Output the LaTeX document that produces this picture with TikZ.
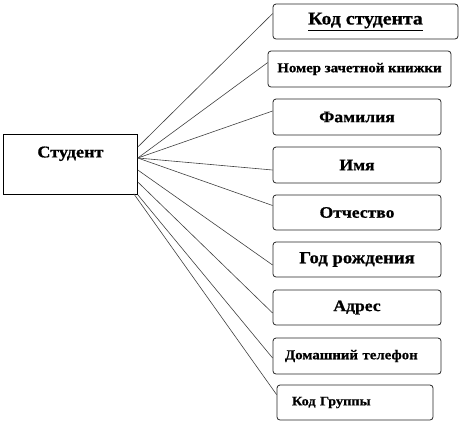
\documentclass[tikz,border=0pt]{standalone}
\usepackage{fontspec}
\setmainfont{Liberation Serif}[FakeStretch=1.1, FakeBold=0.8]
\begin{document}
\begin{tikzpicture}[x=1pt,y=-1pt,
  attr/.style={draw=black!85, line width=0.8pt, rounded corners=3pt, minimum height=36pt, inner sep=0pt, font=\bfseries\fontsize{16}{18}\selectfont},
  leftattr/.style={attr, align=left, font=\bfseries\fontsize{13}{15}\selectfont},
  ent/.style={draw=black, line width=0.8pt, inner sep=0pt, minimum width=134pt, text height=23pt, text depth=37pt, anchor=north west, font=\bfseries\fontsize{16.5}{18}\selectfont},
  link/.style={draw=black!75, line width=0.6pt}]
\useasboundingbox (0,0) rectangle (462,424);
\node[ent] (s) at (3,134) {Студент};
\node[attr, minimum width=185pt, minimum height=35pt, font=\bfseries\fontsize{18}{20}\selectfont] (b1) at (365.5,21.5) {\underline{Код студента}};
\node[attr, minimum width=183pt, font=\bfseries\fontsize{13.5}{15}\selectfont] (b2) at (359.5,69) {Номер зачетной книжки};
\node[attr, minimum width=168pt] (b3) at (357,117) {Фамилия};
\node[attr, minimum width=168pt] (b4) at (357,165) {Имя};
\node[attr, minimum width=168pt, minimum height=35pt] (b5) at (357,212.5) {Отчество};
\node[attr, minimum width=168pt, minimum height=35pt, font=\bfseries\fontsize{17}{19}\selectfont] (b6) at (357,259.5) {Год рождения};
\node[attr, minimum width=168pt, minimum height=35pt] (b7) at (357,307.5) {Адрес};
\node[leftattr, minimum width=168pt, text width=144pt, font=\bfseries\fontsize{13.5}{15}\selectfont] (b8) at (357,356) {Домашний телефон};
\node[leftattr, minimum width=156pt, minimum height=35pt, text width=126pt] (b9) at (355,402.5) {Код Группы};
\draw[link] ([yshift=-13pt]s.north east) -- ([yshift=-10pt]b1.north west);
\draw[link] ([yshift=-24pt]s.north east) -- ([yshift=-12pt]b2.north west);
\draw[link] ([yshift=-24pt]s.north east) -- ([yshift=6pt]b3.west);
\draw[link] ([yshift=-24pt]s.north east) -- ([yshift=-5pt]b4.west);
\draw[link] ([yshift=-24pt]s.north east) -- ([yshift=7pt]b5.west);
\draw[link] ([yshift=-36pt]s.north east) -- ([yshift=-5.5pt]b6.west);
\draw[link] ([yshift=-48pt]s.north east) -- ([yshift=-5.5pt]b7.west);
\draw[link] (s.south east) -- ([yshift=-2pt]b8.west);
\draw[link] ([xshift=-4pt,yshift=1pt]s.south east) -- ([yshift=-10pt]b9.north west);
\end{tikzpicture}
\end{document}
